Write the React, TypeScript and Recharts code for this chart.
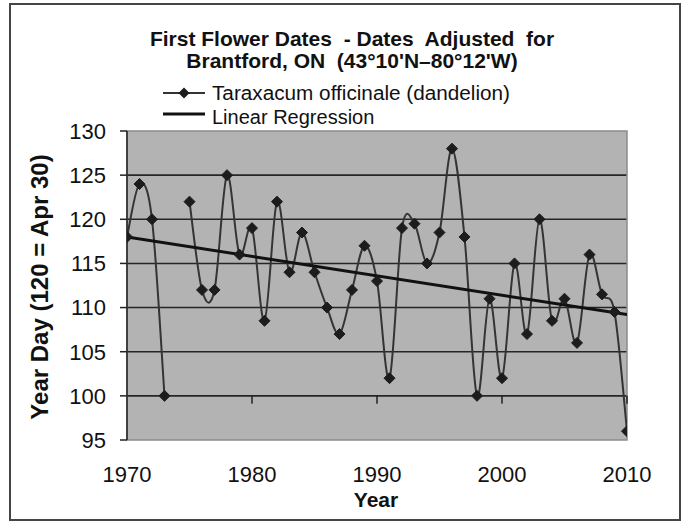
import React from 'react';
import { LineChart, Line, XAxis, YAxis, CartesianGrid, ReferenceArea, ReferenceLine } from 'recharts';

const years = [1970, 1971, 1972, 1973, 1974, 1975, 1976, 1977, 1978, 1979, 1980, 1981, 1982, 1983, 1984, 1985, 1986, 1987, 1988, 1989, 1990, 1991, 1992, 1993, 1994, 1995, 1996, 1997, 1998, 1999, 2000, 2001, 2002, 2003, 2004, 2005, 2006, 2007, 2008, 2009, 2010];
const dandelionDays: (number | null)[] = [118, 124, 120, 100, null, 122, 112, 112, 125, 116, 119, 108.5, 122, 114, 118.5, 114, 110, 107, 112, 117, 113, 102, 119, 119.5, 115, 118.5, 128, 118, 100, 111, 102, 115, 107, 120, 108.5, 111, 106, 116, 111.5, 109.5, 96];
const regressionYears = [1970, 2010];
const regressionDays = [118.0, 109.2];
const xTicks = [1970, 1980, 1990, 2000, 2010];
const yTicks = [95, 100, 105, 110, 115, 120, 125, 130];
const gridValues = [100, 105, 110, 115, 120, 125];
const hangingTicks = [1980, 1990, 2000, 2010];

const titleLines = ['First Flower Dates  - Dates  Adjusted  for', "Brantford, ON  (43°10'N–80°12'W)"];
const seriesName = 'Taraxacum officinale (dandelion)';
const regressionName = 'Linear Regression';
const yLabel = 'Year Day (120 = Apr 30)';
const xLabel = 'Year';

const dandelionData = years.map((y, i) => ({ year: y, day: dandelionDays[i] }));
const regressionData = regressionYears.map((y, i) => ({ year: y, day: regressionDays[i] }));

const FONT = '"Liberation Sans", Arial, sans-serif';

// Excel-like smoothed line (Catmull-Rom as cubic Bezier)
const excelSmooth = (context: any) => {
  let pts: number[][] = [];
  return {
    areaStart() {},
    areaEnd() {},
    lineStart() {
      pts = [];
    },
    point(x: number, y: number) {
      pts.push([+x, +y]);
    },
    lineEnd() {
      if (!pts.length) return;
      context.moveTo(pts[0][0], pts[0][1]);
      for (let i = 0; i < pts.length - 1; i++) {
        const p0 = pts[i - 1] || pts[i];
        const p1 = pts[i];
        const p2 = pts[i + 1];
        const p3 = pts[i + 2] || p2;
        context.bezierCurveTo(
          p1[0] + (p2[0] - p0[0]) / 6,
          p1[1] + (p2[1] - p0[1]) / 6,
          p2[0] - (p3[0] - p1[0]) / 6,
          p2[1] - (p3[1] - p1[1]) / 6,
          p2[0],
          p2[1]
        );
      }
    },
  };
};

const Diamond = (props: any) => {
  const { cx, cy, index } = props;
  if (cx == null || cy == null || props.value == null || (Array.isArray(props.value) && props.value[1] == null)) {
    return <g key={`d-${index}`} />;
  }
  const r = 5.5;
  return (
    <polygon
      key={`d-${index}`}
      points={`${cx},${cy - r} ${cx + r},${cy} ${cx},${cy + r} ${cx - r},${cy}`}
      fill="#1c1c1c"
      stroke="#1c1c1c"
      strokeWidth={1}
    />
  );
};

export default function App() {
  return (
    <div style={{ position: 'absolute', left: 0, top: 0, width: 685, height: 525, background: '#fff', fontFamily: FONT }}>
      <div
        style={{
          position: 'absolute',
          left: 9,
          top: 3,
          width: 672,
          height: 518,
          border: '2px solid #454545',
          boxSizing: 'border-box',
        }}
      />
      <div style={{ position: 'absolute', left: 0, top: 0 }}>
        <LineChart width={685} height={525} margin={{ top: 131, right: 58, bottom: 25, left: 0 }}>
          <CartesianGrid
            horizontal={true}
            vertical={false}
            horizontalValues={gridValues}
            fill="#b3b3b3"
            fillOpacity={1}
            stroke="#262626"
            strokeWidth={1.6}
          />
          <ReferenceArea x1={1970} x2={2010} y1={95} y2={130} fill="none" stroke="#8c8c8c" strokeWidth={1.5} ifOverflow="visible" />
          <XAxis
            type="number"
            dataKey="year"
            domain={[1970, 2010]}
            ticks={xTicks}
            allowDataOverflow
            height={60}
            axisLine={false}
            tickLine={false}
            tickSize={0}
            tickMargin={26}
            tick={{ fontSize: 22, fill: '#111', fontFamily: FONT }}
          />
          <YAxis
            type="number"
            domain={[95, 130]}
            ticks={yTicks}
            allowDataOverflow
            width={127}
            axisLine={{ stroke: '#222', strokeWidth: 1.5 }}
            tickLine={{ stroke: '#222', strokeWidth: 1.5 }}
            tickSize={7}
            tickMargin={14}
            tick={{ fontSize: 22, fill: '#111', fontFamily: FONT }}
          />
          {hangingTicks.map((t) => (
            <ReferenceLine
              key={`ht-${t}`}
              segment={[
                { x: t, y: 100 },
                { x: t, y: 99.1 },
              ]}
              stroke="#222"
              strokeWidth={1.5}
            />
          ))}
          <Line
            data={dandelionData}
            dataKey="day"
            type={excelSmooth as any}
            stroke="#343434"
            strokeWidth={2}
            connectNulls={false}
            dot={Diamond}
            activeDot={false}
            isAnimationActive={false}
          />
          <Line
            data={regressionData}
            dataKey="day"
            type="linear"
            stroke="#111"
            strokeWidth={3}
            dot={false}
            activeDot={false}
            isAnimationActive={false}
          />
        </LineChart>
      </div>
      <svg
        width={685}
        height={525}
        style={{ position: 'absolute', left: 0, top: 0, pointerEvents: 'none' }}
        fontFamily={FONT}
      >
        <text x={352} y={46} textAnchor="middle" fontSize={21} fontWeight="bold" fill="#111" style={{ whiteSpace: 'pre' }}>
          {titleLines[0]}
        </text>
        <text x={352} y={68} textAnchor="middle" fontSize={21} fontWeight="bold" fill="#111" style={{ whiteSpace: 'pre' }}>
          {titleLines[1]}
        </text>
        <line x1={163} y1={93} x2={205} y2={93} stroke="#343434" strokeWidth={2} />
        <polygon points="184,87.5 189.5,93 184,98.5 178.5,93" fill="#1c1c1c" />
        <text x={212} y={100} fontSize={20} fill="#111" textLength={298} lengthAdjust="spacingAndGlyphs">
          {seriesName}
        </text>
        <line x1={163} y1={114} x2={205} y2={114} stroke="#111" strokeWidth={3} />
        <text x={212} y={124} fontSize={20} fill="#111">
          {regressionName}
        </text>
        <text
          x={39}
          y={287}
          transform="rotate(-90 39 287)"
          textAnchor="middle"
          dominantBaseline="central"
          fontSize={24}
          fontWeight="bold"
          fill="#111"
        >
          {yLabel}
        </text>
        <text x={376} y={507} textAnchor="middle" fontSize={21} fontWeight="bold" fill="#111">
          {xLabel}
        </text>
      </svg>
    </div>
  );
}
